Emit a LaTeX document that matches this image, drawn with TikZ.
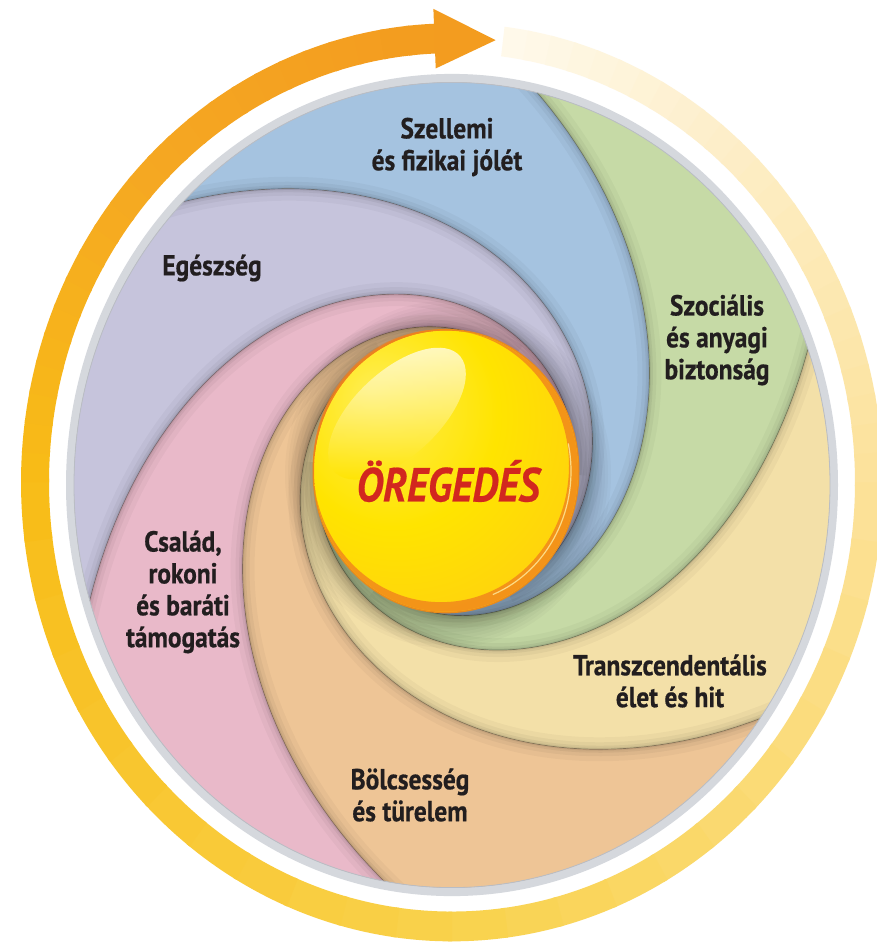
\documentclass[tikz,border=0pt]{standalone}
\usepackage{fontspec}
\newfontfamily\labfont[FakeStretch=0.88,FakeBold=0.6]{PT Sans}
\newfontfamily\ttlfont[FakeStretch=0.86,FakeBold=0.4]{PT Sans}
\usetikzlibrary{calc}
\definecolor{cBlue}{HTML}{A5C3E0}
\definecolor{cGreen}{HTML}{C6DAA6}
\definecolor{cCream}{HTML}{F3E0A8}
\definecolor{cTan}{HTML}{EEC596}
\definecolor{cPink}{HTML}{E9B9C9}
\definecolor{cPurple}{HTML}{C6C4DC}
\definecolor{rimgray}{HTML}{D5D8DD}
\definecolor{rimline}{HTML}{B9BDC5}
\definecolor{a0}{HTML}{FFF9EC}
\definecolor{a1}{HTML}{FDEDC4}
\definecolor{a2}{HTML}{FCE29A}
\definecolor{a3}{HTML}{F9D24C}
\definecolor{a4}{HTML}{F8BC17}
\definecolor{a5}{HTML}{F5A722}
\definecolor{a6}{HTML}{F39C1F}
\definecolor{txt}{HTML}{221E1F}
\definecolor{ttl}{HTML}{D2271F}
\definecolor{sph0}{HTML}{FFEE55}
\definecolor{sph1}{HTML}{FFE400}
\definecolor{sph2}{HTML}{FFD20E}
\definecolor{sph3}{HTML}{FBB51A}
\definecolor{sph4}{HTML}{F39A1E}
\definecolor{sphrim}{HTML}{E98A1C}
\definecolor{sphcres}{HTML}{F07E1E}
\pgfdeclareradialshading{sphereshade}{\pgfpoint{-14bp}{14bp}}{color(0bp)=(sph0); color(20bp)=(sph1); color(36bp)=(sph2); color(45bp)=(sph3); color(50bp)=(sph4); color(72bp)=(sph4)}
\pgfmathdeclarefunction{sr}{1}{\pgfmathparse{120+255*exp(-0.017*#1)}}
\tikzset{
  lab/.style={font=\labfont\bfseries\fontsize{29}{32}\selectfont, text=txt, align=center, inner sep=0pt},
  ttlstyle/.style={font=\ttlfont\bfseries\itshape\fontsize{48}{50}\selectfont, text=ttl, inner sep=0pt},
}
% region between outer spiral C(#1) and inner spiral C(#2), #2 > #1
\newcommand\regfill[3]{%
  \fill[#3] ({#1+15}:{sr(-15)}) arc[start angle={#1+15}, end angle={#2+15}, radius={sr(-15)}]
    -- plot[domain=-15:360, samples=190, variable=\q] ({#2-\q}:{sr(\q)})
    -- plot[domain=0:375, samples=190, variable=\q] ({#1-360+\q}:{sr(360-\q)})
    -- cycle;}
\newcommand\edgeshade[1]{%
  \foreach \lw/\op in {24/0.03,14/0.04,7/0.05,3/0.06}{%
    \draw[black, line width=\lw, opacity=\op] plot[domain=-15:200, samples=120, variable=\q] ({#1-\q}:{sr(\q)});}
  \draw[black, line width=0.7, opacity=0.3] plot[domain=-15:200, samples=120, variable=\q] ({#1-\q}:{sr(\q)});}
\begin{document}
\begin{tikzpicture}[x=1bp,y=1bp]
\useasboundingbox (0,0) rectangle (877,-945);
\fill[white] (0,0) rectangle (877,-945);
\begin{scope}[shift={(452,-485)}, yscale=1.065]
  \begin{scope}[shift={(0,2.5)}]
    \foreach \aS/\aE/\cS/\cE in {83/45/a0/a1, 45/0/a1/a2, 0/-90/a2/a3, -90/-180/a3/a4, -180/-225/a4/a5, -225/-267.4/a5/a6}{%
      \foreach \k in {0,...,11}{%
        \pgfmathsetmacro\bA{\aS+(\aE-\aS)*\k/12}%
        \pgfmathsetmacro\bB{\aS+(\aE-\aS)*(\k+1)/12-0.5}%
        \pgfmathsetmacro\pc{100*(\k+0.5)/12}%
        \fill[\cE!\pc!\cS] (\bA:403) arc[start angle=\bA, end angle=\bB, radius=403] -- (\bB:431) arc[start angle=\bB, end angle=\bA, radius=431] -- cycle;
      }}
    \fill[a6] (92.4:389) -- (92.4:445) -- (84:417.5) -- cycle;
  \end{scope}
  \fill[rimgray] (0,0) circle (386);
  \begin{scope}
    \clip (0,0) circle (378);
    \fill[cTan!80!black] (0,0) circle (378);
    \begin{scope}[shift={(-6,13)}]
      \regfill{77.5}{138.5}{cBlue}
      \regfill{138.5}{198.5}{cPurple}
      \regfill{198.5}{257.5}{cPink}
      \regfill{257.5}{320}{cTan}
      \regfill{320}{376.5}{cCream}
      \regfill{16.5}{77.5}{cGreen}
      \foreach \tb in {16.5,77.5,138.5,198.5,257.5,320}{\edgeshade{\tb}}
      \foreach \k in {1,...,10}{\fill[black, opacity=0.025] (2,-3) circle ({133+3*\k});}
    \end{scope}
  \end{scope}
  \draw[rimline, line width=0.8] (0,0) circle (378);
  \fill[sphrim] (-6,13) circle (133.5);
  \shade[shading=sphereshade] (-6,13) circle (132);
  \fill[sphcres, opacity=0.75, even odd rule] (-6,13) circle (132) (-11,18) circle (128);
  \draw[white!60!sph2, line width=1.2, opacity=0.8] (-6,13) ++(-68:125) arc[start angle=-68, end angle=12, radius=125];
  \shade[top color=white, bottom color=sph1, opacity=0.7, rotate around={40:(-55,67)}] (-55,67) ellipse[x radius=83, y radius=41];
\end{scope}
\node[lab] (t1) at (447,-147) {Szellemi\\és fizikai jólét};
\node[lab] (t2) at (212,-268) {Egészség};
\node[lab] (t3) at (717,-340) {Szociális\\és anyagi\\biztonság};
\node[lab] (t4) at (670,-681) {Transzcendentális\\élet és hit};
\node[lab] (t5) at (410,-795) {Bölcsesség\\és türelem};
\node[lab] (t6) at (183,-592) {Család,\\rokoni\\és baráti\\támogatás};
\node[ttlstyle] (t0) at (448,-481) {ÖREGEDÉS};
\end{tikzpicture}
\end{document}
